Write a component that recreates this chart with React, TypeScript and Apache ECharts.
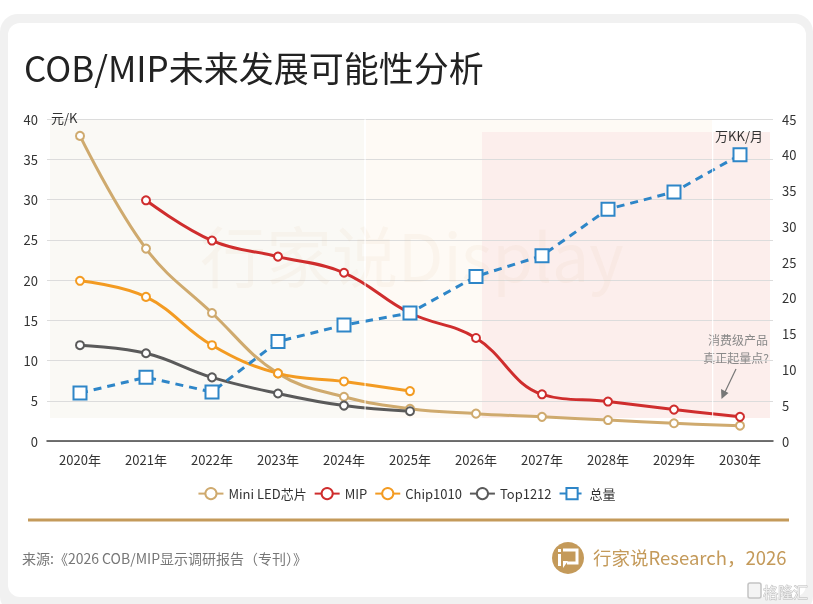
import React, { useEffect, useRef } from "react";
import * as echarts from "echarts";

const years = ["2020", "2021", "2022", "2023", "2024", "2025", "2026", "2027", "2028", "2029", "2030"];
const categories = years.map((y) => y + "年");
const miniLed = [37.9, 23.9, 15.9, 8.4, 5.5, 4.0, 3.4, 3.0, 2.6, 2.2, 1.9];
const mip = ["-", 29.9, 24.9, 22.9, 20.9, 15.9, 12.8, 5.8, 4.9, 3.9, 3.0];
const chip1010 = [19.9, 17.9, 11.9, 8.4, 7.4, 6.2];
const top1212 = [11.9, 10.9, 7.9, 5.9, 4.4, 3.7];
const total = [6.7, 8.9, 6.85, 13.9, 16.2, 17.9, 23.0, 25.9, 32.4, 34.8, 40.0];
const seriesNames = ["Mini LED芯片", "MIP", "Chip1010", "Top1212", "总量"];
const leftTicks = { min: 0, max: 40, interval: 5 };
const rightTicks = { min: 0, max: 45, interval: 5 };

const FONT = "'Noto Sans CJK SC', 'Noto Sans', sans-serif";

export default function App() {
  const ref = useRef<HTMLDivElement>(null);
  useEffect(() => {
    if (!ref.current) return;
    const chart = echarts.init(ref.current, undefined, { renderer: "svg" });
    const lineSeries = (name: string, data: any[], color: string) => ({
      name,
      type: "line",
      yAxisIndex: 0,
      data,
      smooth: 0.4,
      symbol: "emptyCircle",
      symbolSize: 8,
      lineStyle: { color, width: 3 },
      itemStyle: { color, borderWidth: 1.5 },
      z: 3,
    });
    chart.setOption({
      animation: false,
      textStyle: { fontFamily: FONT },
      grid: { left: 47, right: 40, top: 119, bottom: 163, containLabel: false },
      legend: {
        left: "center",
        top: 482,
        itemWidth: 25,
        itemHeight: 14,
        itemGap: 7,
        textStyle: { fontSize: 13, color: "#333", fontFamily: FONT },
        data: seriesNames,
      },
      xAxis: {
        type: "category",
        data: categories,
        boundaryGap: true,
        axisLine: { lineStyle: { color: "#444", width: 1.5 } },
        axisTick: { show: false },
        axisLabel: { color: "#333", fontSize: 13, margin: 12, interval: 0 },
      },
      yAxis: [
        {
          type: "value",
          ...leftTicks,
          axisLine: { show: false },
          axisTick: { show: false },
          axisLabel: { color: "#333", fontSize: 13, margin: 9 },
          splitLine: { lineStyle: { color: "#dcdcdc", width: 1 } },
        },
        {
          type: "value",
          ...rightTicks,
          axisLine: { show: false },
          axisTick: { show: false },
          axisLabel: { color: "#333", fontSize: 13, margin: 9 },
          splitLine: { show: false },
        },
      ],
      series: [
        lineSeries(seriesNames[0], miniLed, "#CFAA6E"),
        lineSeries(seriesNames[1], mip, "#CF2D2D"),
        lineSeries(seriesNames[2], chip1010, "#F39B22"),
        lineSeries(seriesNames[3], top1212, "#5A5A5A"),
        {
          name: seriesNames[4],
          type: "line",
          yAxisIndex: 1,
          data: total,
          symbol: "emptyRect",
          symbolSize: 13,
          lineStyle: { color: "#2E86C8", width: 3, type: [8, 6] },
          itemStyle: { color: "#2E86C8", borderWidth: 2.5 },
          z: 4,
        },
      ],
      graphic: [
        { type: "rect", z: -20, silent: true, shape: { x: 0, y: 14, width: 813, height: 600, r: 18 }, style: { fill: "#f1f1f1" } },
        { type: "rect", z: -19, silent: true, shape: { x: 8, y: 23, width: 798, height: 574, r: 12 }, style: { fill: "#ffffff" } },
        { type: "rect", z: -5, silent: true, shape: { x: 50, y: 119, width: 314, height: 299 }, style: { fill: "#FAF9F5" } },
        { type: "rect", z: -5, silent: true, shape: { x: 366, y: 120, width: 346, height: 298 }, style: { fill: "#FEFAF5" } },
        { type: "rect", z: -4, silent: true, shape: { x: 482, y: 132, width: 288, height: 286 }, style: { fill: "#FCEEEC" } },
        { type: "rect", z: -3, silent: true, shape: { x: 712, y: 132, width: 1.2, height: 286 }, style: { fill: "#ffffff" } },
        { type: "rect", z: 10, silent: true, shape: { x: 364.5, y: 119, width: 1.2, height: 299 }, style: { fill: "#ffffff", opacity: 0.8 } },
        { type: "rect", z: 10, silent: true, shape: { x: 712, y: 132, width: 1.2, height: 286 }, style: { fill: "#ffffff", opacity: 0.8 } },
        {
          type: "text", z: 1, silent: true, x: 200, y: 253,
          style: { text: "行家说Display", fontSize: 66, fontFamily: FONT, fill: "#E2C29A", opacity: 0.1, verticalAlign: "middle" },
        },
        {
          type: "text", x: 24, y: 66,
          style: { text: "COB/MIP未来发展可能性分析", fontSize: 35, fontFamily: FONT, fill: "#222", verticalAlign: "middle" },
        },
        { type: "text", z: 5, x: 51, y: 117, style: { text: "元/K", fontSize: 13, fontFamily: FONT, fill: "#333", verticalAlign: "middle" } },
        { type: "text", x: 763, y: 135, style: { text: "万KK/月", fontSize: 13, fontFamily: FONT, fill: "#333", align: "right", verticalAlign: "middle" } },
        {
          type: "text", z: 5, x: 768, y: 339,
          style: { text: "消费级产品", fontSize: 12, fontFamily: FONT, fill: "#888", align: "right", verticalAlign: "middle" },
        },
        {
          type: "text", z: 5, x: 769, y: 357,
          style: { text: "真正起量点?", fontSize: 12, fontFamily: FONT, fill: "#888", align: "right", verticalAlign: "middle" },
        },
        { type: "line", shape: { x1: 736, y1: 369, x2: 725, y2: 392 }, style: { stroke: "#777", lineWidth: 1.2 } },
        { type: "polygon", shape: { points: [[721.5, 399], [721, 389], [728.5, 393]] }, style: { fill: "#777" } },
        { type: "rect", shape: { x: 28, y: 518.5, width: 761, height: 3 }, style: { fill: "#C49A5A" } },
        {
          type: "text", x: 22, y: 558,
          style: { text: "来源:《2026 COB/MIP显示调研报告（专刊）》", fontSize: 14, fontFamily: FONT, fill: "#777", verticalAlign: "middle" },
        },
        { type: "circle", shape: { cx: 568, cy: 558, r: 16 }, style: { fill: "#C49A5A" } },
        { type: "rect", shape: { x: 558, y: 549, width: 3, height: 3 }, style: { fill: "#fff" } },
        { type: "rect", shape: { x: 558, y: 554, width: 3, height: 12 }, style: { fill: "#fff" } },
        { type: "polyline", shape: { points: [[563, 550], [577, 550], [577, 563], [567, 563]] }, style: { stroke: "#fff", lineWidth: 3, fill: null } },
        { type: "polygon", shape: { points: [[563, 561], [568, 561], [563, 568]] }, style: { fill: "#fff" } },
        {
          type: "text", x: 593, y: 557,
          style: { text: "行家说Research，2026", fontSize: 18.5, fontFamily: FONT, fill: "#C49A5A", verticalAlign: "middle" },
        },
        { type: "rect", shape: { x: 748, y: 583, width: 13, height: 15, r: 2 }, style: { stroke: "#c4c4c4", lineWidth: 1.5, fill: "#f4f4f4" } },
        {
          type: "text", x: 763, y: 591,
          style: { text: "格隆汇", fontSize: 15, fontFamily: FONT, fill: "#eeeeee", stroke: "#b8b8b8", lineWidth: 0.8, verticalAlign: "middle" },
        },
      ],
    });
    return () => chart.dispose();
  }, []);
  return <div ref={ref} style={{ position: "fixed", left: 0, top: 0, width: 813, height: 604 }} />;
}
